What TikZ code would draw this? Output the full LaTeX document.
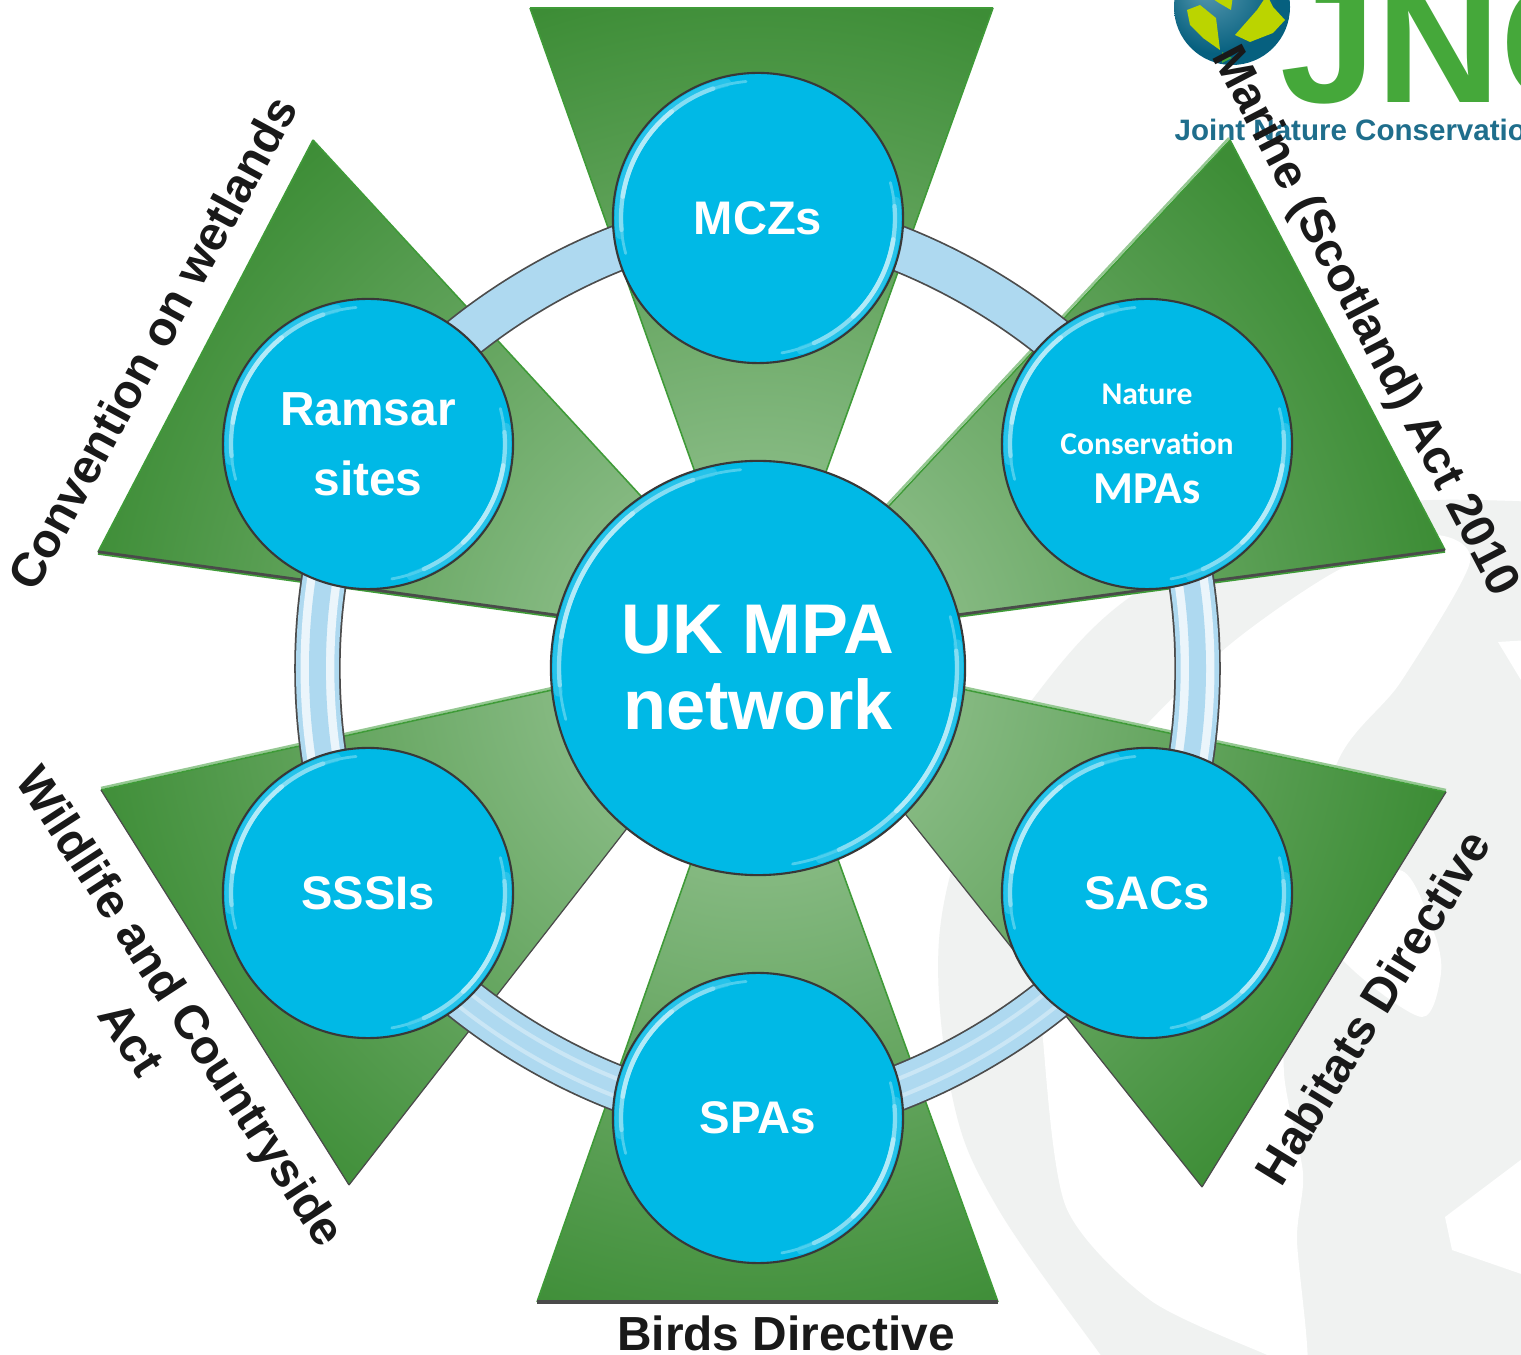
\documentclass[tikz,border=0pt]{standalone}
\usepackage{fontspec}
\setmainfont{Liberation Sans}
\newfontfamily\calib{Carlito}
\definecolor{tl}{HTML}{85B981}
\definecolor{td}{HTML}{3D8D36}
\definecolor{bubblefill}{HTML}{00B9E6}
\definecolor{edgeg}{HTML}{3F9B38}
\definecolor{edged}{HTML}{4A4A4A}
\definecolor{ringb}{HTML}{AED9F0}
\definecolor{wm}{HTML}{F0F2F1}
\definecolor{globea}{HTML}{5C9CB2}
\definecolor{globeb}{HTML}{06607F}
\definecolor{leaf}{HTML}{BBD400}
\definecolor{jncg}{HTML}{45A83A}
\definecolor{jnct}{HTML}{1F6E8C}
\pgfdeclareradialshading{trishade}{\pgfpoint{0bp}{0bp}}{color(0bp)=(tl);color(7bp)=(tl);color(24bp)=(td);color(50bp)=(td)}
\pgfdeclareradialshading{globeshade}{\pgfpoint{-12bp}{10bp}}{color(0bp)=(globea);color(25bp)=(globeb);color(50bp)=(globeb)}
\pgfdeclarelayer{bgl}
\pgfdeclarelayer{ringl}
\pgfsetlayers{bgl,ringl,main}
\tikzset{
  px/.style={shift={(0,1354)},yscale=-1},
  bubble/.style={circle,draw=black!78,line width=0.6pt,fill=bubblefill,text=white,inner sep=0pt,align=center,font=\bfseries},
  small/.style={bubble,minimum size=2.9cm},
  outerlabel/.style={text=black!90,font=\bfseries\fontsize{13.6}{16.8}\selectfont,align=center,inner sep=0pt},
  ringbase/.style={line width=13.2pt,draw=black!70,postaction={draw=ringb,line width=12.2pt}},
  ringstripes/.style={line width=13.2pt,draw=black!70,
     postaction={draw=ringb,line width=12.2pt},
     postaction={draw=white!75!ringb,line width=9.6pt},
     postaction={draw=ringb,line width=4.8pt}},
  ringsoft/.style={line width=13.2pt,draw=black!70,
     postaction={draw=ringb,line width=12.2pt},
     postaction={draw=white!35!ringb,line width=6pt},
     postaction={draw=ringb,line width=3.6pt}},
  arcjoin/.style={bend left=30,looseness=0.77},
  triedge/.style={draw=edgeg,line width=0.45pt},
  trilow/.style={draw=edged,line width=0.9pt},
  trilite/.style={draw=white!45!edgeg,line width=0.7pt},
}
\newcommand\shine[2]{%
  \begin{scope}[shift={(#1.center)},line cap=round]
    \foreach \a/\b in {95/195,280/375}{
      \draw[draw=bubblefill!85!white,line width=2.4pt] (\a+8:#2-6) arc[start angle=\a+8,end angle=\b-8,radius=#2-6];
      \draw[draw=bubblefill!70!white,line width=0.8pt] (\a:#2-8) arc[start angle=\a,end angle=\b,radius=#2-8];
      \draw[draw=bubblefill!48!white,line width=1.2pt] (\a+14:#2-8) arc[start angle=\a+14,end angle=\b-10,radius=#2-8];
      \draw[draw=bubblefill!30!white,line width=1.3pt] (\a+34:#2-8) arc[start angle=\a+34,end angle=\b-24,radius=#2-8];
    }
  \end{scope}}
\begin{document}
\begin{tikzpicture}[x=0.01cm,y=0.01cm]
\useasboundingbox (0,0) rectangle (1521,1354);
\begin{pgfonlayer}{bgl}
\fill[white] (0,0) rectangle (1521,1354);
\begin{scope}[px]
  \clip (0,0) rectangle (1521,1354);
  % watermark
  \fill[wm] plot[smooth,tension=.6] coordinates {(1600,505) (1433,500) (1300,515) (1133,595) (1032,700) (975,800) (939,940) (953,1100) (997,1207) (1100,1354) (1150,1420)} -- (1600,1420) -- cycle;
  \fill[white] plot[smooth cycle,tension=.45] coordinates {(1470,562) (1430,535) (1333,573) (1220,653) (1100,780) (1040,930) (1043,1040) (1066,1207) (1150,1300) (1265,1354) (1307,1370) (1297,1240) (1303,1173) (1284,1073) (1290,950) (1337,763) (1400,683)};
  \fill[white] plot[smooth cycle,tension=.5] coordinates {(1399,870) (1433,930) (1441,973) (1422,1017) (1353,970) (1320,920)};
  \fill[white] (1530,1153) -- (1445,1217) -- (1452,1250) -- (1530,1277) -- cycle;
  \fill[white] (1498,642) -- (1530,640) -- (1530,695) -- cycle;
  % logo
  \shade[shading=globeshade] (1232,7) circle[radius=58];
  \fill[leaf] (1187,10) -- (1200,5) -- (1216,18) -- (1220,50) -- (1203,38) -- (1190,25) -- cycle;
  \fill[leaf] (1207,-5) -- (1233,-5) -- (1231,10) -- (1219,3) -- cycle;
  \fill[leaf] (1235,35) -- (1257,10) -- (1267,-5) -- (1273,7) -- (1285,20) -- (1273,33) -- (1250,42) -- cycle;
  \fill[jncg] (1222,52) -- (1232,58) -- (1222,63) -- cycle;
  \node[anchor=base west,inner sep=0pt,text=jncg,font=\bfseries\fontsize{49}{49}\selectfont] (jnc) at (1280,103) {JNC};
  \node[anchor=base west,inner sep=0pt,text=jnct,font=\bfseries\fontsize{8.4}{10}\selectfont] (jncname) at (1174,141) {Joint Nature Conservatio};
  % triangle corners
  \coordinate (ta) at (530,8);   \coordinate (tb) at (993,8);   \coordinate (tc) at (760,655);
  \coordinate (ua) at (313,140); \coordinate (ub) at (98,552);  \coordinate (uc) at (779,646);
  \coordinate (ra) at (1230,140);\coordinate (rb) at (1445,550);\coordinate (rc) at (763,641);
  \coordinate (la) at (101,790); \coordinate (lb) at (349,1185);\coordinate (lc) at (773,641);
  \coordinate (sa) at (1446,792);\coordinate (sb) at (1202,1187);\coordinate (sc) at (774,649);
  \coordinate (ba) at (537,1302);\coordinate (bb) at (998,1302);\coordinate (bc) at (764,655);
  \coordinate (hubc) at (758,668);
  \begin{scope}
    \clip (ta)--(tb)--(tc)--cycle (ua)--(ub)--(uc)--cycle (ra)--(rb)--(rc)--cycle
          (la)--(lb)--(lc)--cycle (sa)--(sb)--(sc)--cycle (ba)--(bb)--(bc)--cycle;
    \shade[shading=trishade] (hubc) circle[radius=720];
  \end{scope}
  % triangle edges
  \draw[triedge] (ta)--(tb) (ta)--(tc) (tb)--(tc);
  \draw[triedge] (ua)--(uc) (ua)--(ub);
  \draw[trilow] (ub)--(uc);
  \draw[triedge] ([yshift=0.02cm]ub)--([yshift=0.02cm]uc);
  \draw[triedge] (ra)--(rc) (ra)--(rb);
  \draw[trilite] ([xshift=-0.01cm,yshift=-0.02cm]ra)--([xshift=-0.01cm,yshift=-0.02cm]rc);
  \draw[trilow] (rb)--(rc);
  \draw[triedge] ([yshift=0.02cm]rb)--([yshift=0.02cm]rc);
  \draw[trilite] ([yshift=-0.02cm]la)--([yshift=-0.02cm]lc);
  \draw[triedge] (la)--(lc);
  \draw[trilow,line width=0.35pt] (la)--(lb) (lb)--(lc);
  \draw[trilite] ([yshift=-0.02cm]sa)--([yshift=-0.02cm]sc);
  \draw[triedge] (sa)--(sc);
  \draw[trilow,line width=0.35pt] (sa)--(sb) (sb)--(sc);
  \draw[triedge] (ba)--(bc) (bb)--(bc);
  \draw[trilow] (ba)--(bb);
\end{scope}
\end{pgfonlayer}
\begin{scope}[px]
  \node[bubble,minimum size=4.14cm,font=\bfseries\fontsize{20}{21.6}\selectfont] (hub) at (758,668) {UK MPA\\network};
  \node[small,font=\bfseries\fontsize{13.4}{15}\selectfont] (mcz) at (758,218) {MCZs};
  \node[small,font=\bfseries\fontsize{13.6}{19.8}\selectfont] (ramsar) at (368,444) {Ramsar\\sites};
  \node[small,font=\calib\bfseries\fontsize{9}{14}\selectfont] (mpa) at (1147,444) {Nature\\Conservation\\\fontsize{13}{14}\selectfont MPAs};
  \node[small,font=\bfseries\fontsize{13.4}{15}\selectfont] (sac) at (1147,893) {SACs};
  \node[small,font=\bfseries\fontsize{13}{15}\selectfont] (spa) at (758,1118) {SPAs};
  \node[small,font=\bfseries\fontsize{13.4}{15}\selectfont] (sssi) at (368,893) {\raisebox{-1.4pt}{SSSIs}};
  \node[outerlabel,rotate=61.5] (lconv) at (152,343) {Convention on wetlands};
  \node[outerlabel,rotate=-62.5] (lmar) at (1364,322) {Marine (Scotland) Act 2010};
  \node[outerlabel,rotate=-57] (lwild) at (157,1022) {Wildlife and Countryside\\Act};
  \node[outerlabel,rotate=58.5] (lhab) at (1372,1007) {Habitats Directive};
  \node[outerlabel] (lbird) at (786,1333) {Birds Directive};
\end{scope}
\begin{pgfonlayer}{ringl}
  \draw[ringbase] (mcz.center) to[arcjoin] (mpa.center);
  \draw[ringstripes] (mpa.center) to[arcjoin] (sac.center);
  \draw[ringsoft] (sac.center) to[arcjoin] (spa.center);
  \draw[ringsoft] (spa.center) to[arcjoin] (sssi.center);
  \draw[ringstripes] (sssi.center) to[arcjoin] (ramsar.center);
  \draw[ringbase] (ramsar.center) to[arcjoin] (mcz.center);
\end{pgfonlayer}
\shine{hub}{207}
\shine{mcz}{145}
\shine{ramsar}{145}
\shine{mpa}{145}
\shine{sac}{145}
\shine{spa}{145}
\shine{sssi}{145}
\end{tikzpicture}
\end{document}
